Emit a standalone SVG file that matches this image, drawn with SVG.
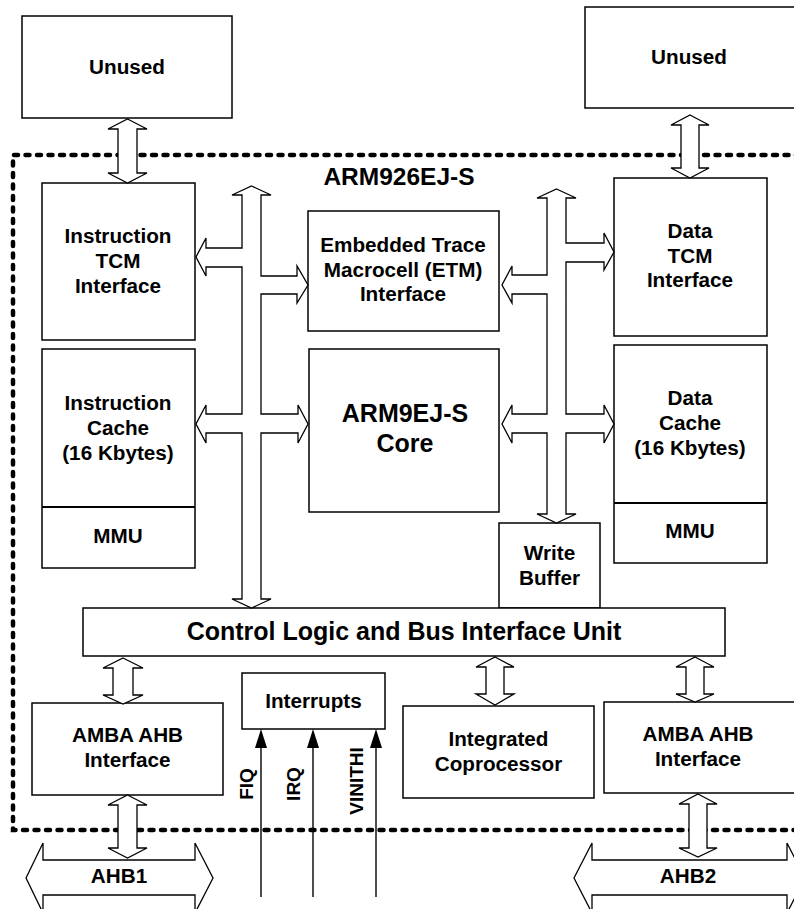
<svg xmlns="http://www.w3.org/2000/svg" width="794" height="909" viewBox="0 0 794 909">
<defs>
<style>
.box{fill:#fff;stroke:#000;stroke-width:1.5}
.bus{fill:#fff;stroke:#000;stroke-width:1.3;stroke-linejoin:miter}
.t{font-family:"Liberation Sans",Arial,sans-serif;font-weight:bold;font-size:20.7px;fill:#000;text-anchor:middle}
.big{font-size:25px}
.sig{stroke:#000;stroke-width:1.4;fill:none}
</style>
<marker id="ah" markerWidth="20" markerHeight="12" refX="0" refY="6" orient="auto" markerUnits="userSpaceOnUse" viewBox="0 0 20 12">
<path d="M0,0 L19,6 L0,12 Z" fill="#000"/>
</marker>
</defs>
<rect width="794" height="909" fill="#fff"/>

<g id="border">
<path d="M800,155 H13 V830 H800" fill="none" stroke="#000" stroke-width="4.5" stroke-dasharray="4 7.5" stroke-linecap="round"/>
<text class="t" x="399" y="185" style="font-size:24.5px">ARM926EJ-S</text>
</g>

<g id="unused-left"><rect class="box" x="22" y="16" width="210" height="102"/><text class="t" x="127" y="74">Unused</text></g>
<g id="unused-right"><rect class="box" x="585" y="7" width="215" height="101"/><text class="t" x="689" y="64">Unused</text></g>

<g id="itcm"><rect class="box" x="42" y="183" width="153" height="157"/>
<text class="t" x="118" y="243">Instruction</text><text class="t" x="118" y="268">TCM</text><text class="t" x="118" y="293">Interface</text></g>

<g id="icache"><rect class="box" x="42" y="349" width="153" height="219"/><line x1="42" y1="507" x2="195" y2="507" stroke="#000" stroke-width="1.8"/>
<text class="t" x="118" y="410">Instruction</text><text class="t" x="118" y="435">Cache</text><text class="t" x="118" y="460">(16 Kbytes)</text>
<text class="t" x="118" y="543">MMU</text></g>

<g id="etm"><rect class="box" x="308" y="211" width="191" height="120"/>
<text class="t" x="403" y="252">Embedded Trace</text><text class="t" x="403" y="277">Macrocell (ETM)</text><text class="t" x="403" y="301">Interface</text></g>

<g id="core"><rect class="box" x="309" y="349" width="190" height="163"/>
<text class="t big" x="405" y="422">ARM9EJ-S</text><text class="t big" x="405" y="452">Core</text></g>

<g id="dtcm"><rect class="box" x="614" y="178" width="153" height="158"/>
<text class="t" x="690" y="238">Data</text><text class="t" x="690" y="263">TCM</text><text class="t" x="690" y="287">Interface</text></g>

<g id="dcache"><rect class="box" x="614" y="345" width="153" height="218"/><line x1="614" y1="503" x2="767" y2="503" stroke="#000" stroke-width="1.8"/>
<text class="t" x="690" y="405">Data</text><text class="t" x="690" y="430">Cache</text><text class="t" x="690" y="455">(16 Kbytes)</text>
<text class="t" x="690" y="538">MMU</text></g>

<g id="writebuf"><rect class="box" x="499" y="523" width="101" height="85"/>
<text class="t" x="549.5" y="560">Write</text><text class="t" x="549.5" y="585">Buffer</text></g>

<g id="control"><rect class="box" x="83" y="608" width="642" height="48"/>
<text class="t big" x="404" y="640">Control Logic and Bus Interface Unit</text></g>

<g id="amba-left"><rect class="box" x="32" y="703" width="191" height="92"/>
<text class="t" x="127.5" y="742">AMBA AHB</text><text class="t" x="127.5" y="767">Interface</text></g>

<g id="interrupts"><rect class="box" x="242" y="673" width="143" height="56"/>
<text class="t" x="313.5" y="708">Interrupts</text></g>

<g id="coproc"><rect class="box" x="403" y="706" width="191" height="92"/>
<text class="t" x="498.5" y="746">Integrated</text><text class="t" x="498.5" y="771">Coprocessor</text></g>

<g id="amba-right"><rect class="box" x="604" y="702" width="196" height="91"/>
<text class="t" x="698" y="741">AMBA AHB</text><text class="t" x="698" y="766">Interface</text></g>

<g id="ahb1"><polygon class="bus" points="26,878 43,843 43,860 195,860 195,843 213,878 195,913 195,895 43,895 43,913"/>
<text class="t" x="119" y="883">AHB1</text></g>
<g id="ahb2"><polygon class="bus" points="574,878 592,843 592,860 787,860 787,843 805,878 787,913 787,895 592,895 592,913"/>
<text class="t" x="688" y="883">AHB2</text></g>

<g id="connectors">
<polygon class="bus" points="127.5,119 147,129 137,129 137,173 147,173 127.5,183 108,173 118,173 118,129 108,129"/>
<polygon class="bus" points="690,115 709,125 699,125 699,168 709,168 690,178 671,168 681,168 681,125 671,125"/>
<polygon class="bus" points="123,658 143,668 133,668 133,695 143,695 123,704 103,695 113,695 113,668 103,668"/>
<polygon class="bus" points="495,657 514,667 504,667 504,694 514,694 495,705 476,694 486,694 486,667 476,667"/>
<polygon class="bus" points="695,657 714,667 704,667 704,694 714,694 695,702 676,694 686,694 686,667 676,667"/>
<polygon class="bus" points="127.5,795 147,805 137,805 137,848 147,848 127.5,858 108,848 118,848 118,805 108,805"/>
<polygon class="bus" points="698,794 717,804 707,804 707,848 717,848 698,857 679,848 689,848 689,804 679,804"/>
<polygon class="bus" points="251.5,186 271,195 261,195 261,276 297,276 297,266 308,285 297,303 297,294 261,294 261,414 298,414 298,405 308,424 298,443 298,433 261,433 261,599 271,599 251.5,608 232,599 242,599 242,433 206,433 206,443 196,424 206,405 206,414 242,414 242,267 206,267 206,276 196,257 206,238 206,248 242,248 242,195 232,195"/>
<polygon class="bus" points="556.5,189 576,198 566,198 566,243 604,243 604,233 614,252 604,270 604,262 566,262 566,414 604,414 604,405 614,424 604,443 604,433 566,433 566,514 576,514 556.5,523 537,514 547,514 547,433 512,433 512,443 502,424 512,405 512,414 547,414 547,294 512,294 512,303 502,285 512,266 512,275 547,275 547,198 537,198"/>
<line class="sig" x1="261" y1="897" x2="261" y2="748" marker-end="url(#ah)"/>
<line class="sig" x1="313" y1="897" x2="313" y2="748" marker-end="url(#ah)"/>
<line class="sig" x1="376" y1="897" x2="376" y2="748" marker-end="url(#ah)"/>
<text class="t" style="font-size:19px" transform="translate(253,784) rotate(-90)">FIQ</text>
<text class="t" style="font-size:19px" transform="translate(300,784) rotate(-90)">IRQ</text>
<text class="t" style="font-size:19px" transform="translate(363,781) rotate(-90)">VINITHI</text>
</g>
</svg>
